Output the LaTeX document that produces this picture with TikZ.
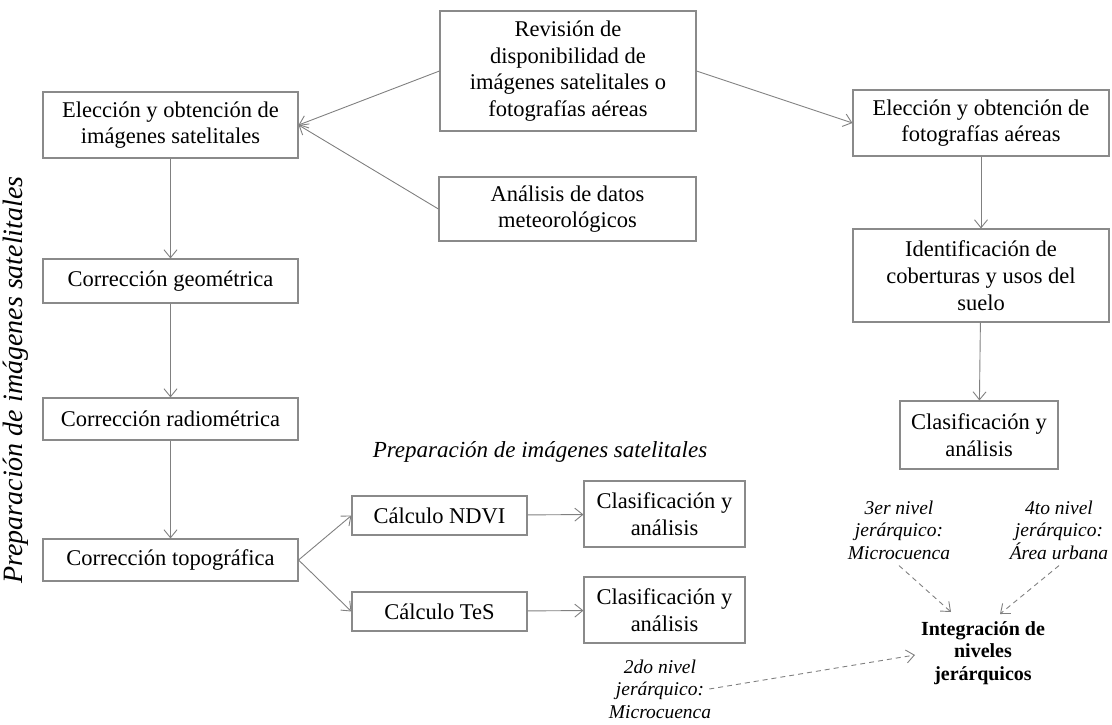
\documentclass[tikz,border=0pt]{standalone}
\usepackage{fontspec}
\setmainfont{Liberation Serif}
\usetikzlibrary{arrows.meta}
\definecolor{edgegray}{HTML}{8A8A8A}
\definecolor{linkgray}{HTML}{808080}
\begin{document}
\begin{tikzpicture}[x=1pt,y=-1pt,
  box/.style 2 args={draw=edgegray, line width=1.1pt, align=center, inner sep=2pt,
    minimum width=#1pt, minimum height=#2pt,
    font=\fontsize{22.5}{26.7}\selectfont},
  note/.style={align=center, inner sep=2pt, font=\fontsize{19.5}{22.5}\selectfont\itshape},
  link/.style={draw=linkgray, line width=0.9pt, -{Straight Barb[length=8pt,width=13pt]}},
  dlink/.style={link, dash pattern=on 5pt off 4pt}]
\useasboundingbox (0,0) rectangle (1112,724);

% main boxes
\node[box={256}{120}] (rev) at (568,71) {Revisión de\\disponibilidad de\\imágenes satelitales o\\fotografías aéreas};
\node[box={255}{66}] (elecA) at (170.5,125) {Elección y obtención de\\imágenes satelitales};
\node[box={257}{64}] (meteo) at (567.5,209) {Análisis de datos\\meteorológicos};
\node[box={256}{66}] (elecF) at (981,123) {Elección y obtención de\\fotografías aéreas};

% left column
\node[box={255}{44}] (geom) at (170.5,281) {Corrección geométrica};
\node[box={255}{42}] (radio) at (170.5,419) {Corrección radiométrica};
\node[box={255}{42}] (topo) at (170.5,560) {Corrección topográfica};
\node[box={175}{39}] (ndvi) at (439.5,515.5) {Cálculo NDVI};
\node[box={175}{39}] (tes) at (439.5,611.5) {Cálculo TeS};
\node[box={161}{66}] (clasA) at (664.5,514) {Clasificación y\\análisis};
\node[box={161}{66}] (clasB) at (664.5,610) {Clasificación y\\análisis};

% right column
\node[box={256}{93}] (ident) at (981,275.5) {Identificación de\\coberturas y usos del\\suelo};
\node[box={158}{68}] (clasR) at (979,435) {Clasificación y\\análisis};

% captions
\node[note, font=\fontsize{23}{26}\selectfont\itshape] (prep) at (540,452) {Preparación de imágenes satelitales};
\node[note, font=\fontsize{28}{32}\selectfont\itshape, rotate=90] (prepv) at (16,380) {Preparación de imágenes satelitales};
\node[note] (n3) at (899,530) {3er nivel\\jerárquico:\\Microcuenca};
\node[note] (n4) at (1059,530) {4to nivel\\jerárquico:\\Área urbana};
\node[note] (n2) at (660,689) {2do nivel\\jerárquico:\\Microcuenca};
\node[align=center, inner sep=2pt, font=\fontsize{20}{22.5}\selectfont\bfseries] (integ) at (983,653) {Integración de\\niveles\\jerárquicos};

% ends of the dashed links above and beside the integration label
\coordinate (t3) at (951,612);
\coordinate (t4) at (1000,614);
\coordinate (t2) at (915,655);

% connectors
\draw[link] (rev.west) -- (elecA.east);
\draw[link] (meteo.west) -- (elecA.east);
\draw[link] (rev.east) -- (elecF.west);
\draw[link] (elecA) -- (geom);
\draw[link] (geom) -- (radio);
\draw[link] (radio) -- (topo);
\draw[link] (topo.east) -- (ndvi.west);
\draw[link] (topo.east) -- (tes.west);
\draw[link] (ndvi) -- (clasA);
\draw[link] (tes) -- (clasB);
\draw[link] (elecF) -- (ident);
\draw[link] (ident) -- (clasR);
\draw[dlink] ([yshift=-4pt]n3.south) -- (t3);
\draw[dlink] ([yshift=-4pt]n4.south) -- (t4);
\draw[dlink] ([xshift=-4pt]n2.east) -- (t2);
\end{tikzpicture}
\end{document}
